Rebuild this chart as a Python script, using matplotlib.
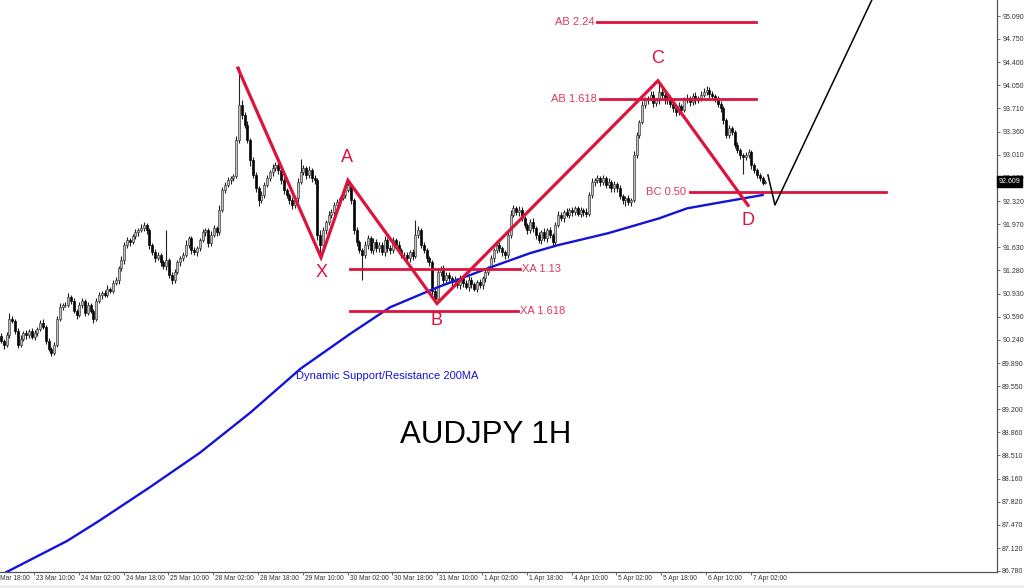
import numpy as np
import matplotlib
matplotlib.use("Agg")
import matplotlib.pyplot as plt
import matplotlib.transforms as mtransforms

plt.rcParams['font.family'] = ['Liberation Sans', 'DejaVu Sans']

# hourly closes AUDJPY (bar 0 = left edge of the chart)
first_open = 90.30
closes = [
    90.23, 90.16, 90.31, 90.56, 90.53, 90.38, 90.16, 90.26, 90.35, 90.31,
    90.38, 90.29, 90.34, 90.41, 90.50, 90.44, 90.23, 90.11, 90.05, 90.16,
    90.56, 90.74, 90.76, 90.77, 90.88, 90.83, 90.68, 90.61, 90.76, 90.83,
    90.65, 90.76, 90.68, 90.56, 90.83, 90.91, 90.95, 90.92, 91.00, 90.98,
    91.09, 91.13, 91.31, 91.43, 91.66, 91.73, 91.70, 91.79, 91.85, 91.88,
    91.91, 91.96, 91.88, 91.66, 91.55, 91.46, 91.51, 91.40, 91.34, 91.43,
    91.21, 91.13, 91.25, 91.40, 91.46, 91.51, 91.66, 91.76, 91.58, 91.55,
    91.61, 91.73, 91.85, 91.88, 91.69, 91.81, 91.91, 91.85, 92.18, 92.48,
    92.56, 92.63, 92.66, 92.69, 93.23, 93.76, 93.61, 93.46, 93.23, 92.93,
    92.71, 92.51, 92.33, 92.41, 92.56, 92.66, 92.75, 92.81, 92.86, 92.78,
    92.63, 92.48, 92.41, 92.33, 92.26, 92.36, 92.60, 92.75, 92.81, 92.71,
    92.78, 92.66, 92.63, 91.81, 91.66, 91.88, 92.00, 92.11, 92.15, 92.26,
    92.30, 92.36, 92.41, 92.48, 92.56, 92.33, 91.88, 91.70, 91.58, 91.51,
    91.66, 91.76, 91.58, 91.70, 91.61, 91.66, 91.55, 91.73, 91.61, 91.58,
    91.73, 91.66, 91.58, 91.51, 91.51, 91.46, 91.55, 91.49, 91.81, 91.88,
    91.66, 91.58, 91.46, 91.40, 90.98, 90.86, 91.25, 91.31, 91.13, 91.21,
    91.16, 91.10, 91.13, 91.06, 91.16, 91.09, 91.04, 91.13, 91.07, 91.01,
    91.10, 91.06, 91.16, 91.25, 91.31, 91.46, 91.58, 91.66, 91.61, 91.55,
    91.51, 91.81, 92.11, 92.21, 92.15, 92.18, 92.06, 91.96, 91.88, 92.00,
    91.91, 91.81, 91.73, 91.85, 91.76, 91.88, 91.81, 91.70, 91.96, 92.11,
    92.06, 92.15, 92.11, 92.18, 92.15, 92.21, 92.13, 92.18, 92.15, 92.12,
    92.41, 92.60, 92.63, 92.66, 92.60, 92.66, 92.56, 92.60, 92.51, 92.57,
    92.51, 92.39, 92.33, 92.36, 92.30, 92.33, 93.01, 93.31, 93.50, 93.76,
    93.83, 93.86, 93.91, 93.79, 93.83, 93.95, 93.91, 93.83, 93.86, 93.77,
    93.71, 93.65, 93.74, 93.68, 93.83, 93.86, 93.80, 93.89, 93.83, 93.86,
    93.91, 93.95, 93.98, 93.92, 93.89, 93.86, 93.77, 93.71, 93.53, 93.31,
    93.41, 93.35, 93.16, 93.08, 93.01, 92.98, 93.01, 93.05, 92.86, 92.78,
    92.71, 92.66, 92.59, 92.609,
]
# wick lengths above / below the body, in 0.01 yen
upper_wick = [
    4, 3, 5, 8, 4, 3, 4, 5, 3, 4,   3, 4, 5, 3, 4, 5, 3, 4, 3, 5,
    4, 5, 3, 4, 6, 3, 4, 3, 5, 4,   3, 5, 4, 3, 4, 5, 3, 4, 6, 3,
    4, 5, 3, 6, 4, 5, 3, 4, 5, 4,   6, 5, 3, 4, 3, 5, 4, 3, 4, 45,
    3, 4, 5, 4, 3, 5, 8, 4, 3, 5,   4, 3, 5, 4, 3, 6, 5, 3, 8, 5,
    4, 5, 3, 4, 6, 57, 8, 5, 6, 4,  5, 4, 3, 6, 4, 5, 4, 6, 5, 4,
    3, 5, 4, 3, 5, 4, 6, 20, 5, 4,  6, 4, 5, 3, 8, 5, 4, 6, 5, 4,
    5, 4, 6, 5, 7, 3, 4, 5, 3, 4,   6, 5, 4, 6, 5, 4, 5, 6, 4, 5,
    5, 4, 6, 3, 4, 5, 4, 5, 22, 6,  4, 5, 3, 4, 3, 5, 6, 4, 5, 4,
    5, 4, 6, 4, 5, 3, 4, 6, 5, 4,   4, 5, 3, 6, 4, 5, 4, 6, 5, 4,
    4, 6, 8, 5, 4, 6, 5, 4, 3, 5,   6, 4, 5, 3, 6, 4, 5, 3, 4, 6,
    5, 4, 6, 4, 5, 3, 4, 5, 4, 6,   5, 6, 4, 5, 3, 5, 4, 6, 4, 5,
    4, 5, 3, 4, 5, 4, 6, 5, 4, 6,   5, 4, 6, 5, 4, 12, 5, 4, 6, 5,
    4, 5, 6, 4, 5, 6, 4, 5, 6, 4,   5, 6, 6, 4, 5, 3, 4, 5, 4, 3,
    5, 4, 3, 5, 4, 3, 5, 5, 4, 3,   4, 3, 4, 3,
]
lower_wick = [
    4, 5, 3, 4, 3, 5, 4, 3, 4, 5,   4, 3, 5, 4, 3, 4, 5, 3, 5, 4,
    3, 4, 5, 3, 4, 5, 4, 6, 3, 4,   5, 3, 4, 6, 4, 3, 5, 4, 3, 4,
    4, 3, 5, 4, 6, 4, 5, 3, 4, 5,   3, 4, 5, 6, 4, 5, 3, 6, 4, 5,
    5, 6, 4, 3, 5, 4, 3, 5, 6, 4,   5, 4, 3, 5, 6, 4, 3, 5, 4, 3,
    4, 3, 5, 4, 3, 4, 6, 5, 4, 8,   5, 6, 8, 4, 5, 3, 4, 5, 4, 5,
    5, 6, 4, 5, 6, 4, 5, 3, 4, 6,   4, 5, 6, 8, 19, 5, 6, 4, 5, 4,
    4, 5, 3, 4, 3, 5, 6, 5, 4, 38,  5, 6, 4, 5, 6, 5, 4, 5, 6, 5,
    4, 5, 6, 5, 4, 5, 6, 5, 3, 4,   5, 4, 6, 5, 6, 7, 4, 5, 6, 5,
    4, 6, 5, 4, 6, 5, 4, 6, 5, 4,   5, 4, 6, 5, 4, 3, 5, 4, 6, 5,
    6, 4, 5, 3, 4, 5, 4, 5, 6, 4,   5, 6, 4, 5, 4, 6, 5, 6, 4, 3,
    4, 5, 3, 4, 5, 4, 3, 5, 6, 4,   3, 4, 5, 4, 5, 4, 5, 4, 6, 5,
    5, 4, 6, 8, 4, 5, 3, 4, 5, 3,   4, 5, 3, 6, 4, 5, 4, 6, 5, 4,
    6, 5, 4, 5, 3, 4, 5, 4, 5, 4,   4, 3, 4, 5, 4, 5, 4, 6, 5, 4,
    5, 4, 5, 4, 6, 25, 4, 5, 6, 4,  5, 4, 3, 2,
]

# 200 period moving average, read at some bars
ma_bar = [-1, 23.6, 35, 53, 71, 89, 107, 125, 139, 156, 175, 189, 199, 217, 235, 245, 257, 272]
ma_value = [86.70, 87.23, 87.53, 88.03, 88.55, 89.15, 89.81, 90.34, 90.73, 91.03,
            91.33, 91.54, 91.66, 91.84, 92.06, 92.21, 92.30, 92.41]

# harmonic pattern pivots
pivot_names = ["", "X", "A", "B", "C", "D"]
pivot_bar = [84.6, 114.3, 123.9, 155.7, 234.6, 266.8]
pivot_price = [94.31, 91.475, 92.63, 90.785, 94.12, 92.255]

# fib levels: name, price, from bar, to bar
level_names = ["XA 1.13", "XA 1.618", "AB 1.618", "AB 2.24", "BC 0.50"]
level_price = [91.295, 90.68, 93.845, 95.00, 92.46]
level_start = [124.6, 124.6, 214.0, 213.0, 246.0]
level_end = [185.4, 184.5, 269.5, 269.5, 316.0]

# projected path after D
proj_bar = [273.9, 276.4, 311.0]
proj_price = [92.71, 92.26, 95.33]

date_labels = ["22 Mar 18:00", "23 Mar 10:00", "24 Mar 02:00", "24 Mar 18:00",
               "25 Mar 10:00", "28 Mar 02:00", "28 Mar 18:00", "29 Mar 10:00",
               "30 Mar 02:00", "30 Mar 18:00", "31 Mar 10:00", "1 Apr 02:00",
               "1 Apr 18:00", "4 Apr 10:00", "5 Apr 02:00", "5 Apr 18:00",
               "6 Apr 10:00", "7 Apr 02:00"]
price_ticks = [95.090, 94.750, 94.400, 94.050, 93.710, 93.360, 93.010, 92.670,
               92.320, 91.970, 91.630, 91.280, 90.930, 90.590, 90.240, 89.890,
               89.550, 89.200, 88.860, 88.510, 88.160, 87.820, 87.470, 87.120,
               86.780]
last_price = 92.609

RED = '#dc143c'
BLUE = '#1414d8'

c = np.array(closes)
o = np.concatenate([[first_open], c[:-1]])
h = np.maximum(o, c) + np.array(upper_wick) / 100
l = np.minimum(o, c) - np.array(lower_wick) / 100
idx = np.arange(len(c))
up = c >= o

fig = plt.figure(figsize=(10.24, 5.88), dpi=100)
ax = fig.add_axes([0, 16 / 588, 997 / 1024, 572 / 588])

ax.vlines(idx, l, h, color='#222222', lw=0.8, zorder=2)
ax.bar(idx[up], c[up] - o[up], bottom=o[up], width=0.7, color='#c0c0c0',
       edgecolor='#333333', lw=0.45, zorder=3)
ax.bar(idx[~up], o[~up] - c[~up], bottom=c[~up], width=0.7, color='black',
       edgecolor='black', lw=0.45, zorder=3)

ax.plot(ma_bar, ma_value, color=BLUE, lw=1.7, zorder=4)

# pattern
ax.plot(pivot_bar, pivot_price, color=RED, lw=2.3, zorder=6, solid_joinstyle='miter')
letter_off = {"X": (0.3, -0.22), "A": (-0.3, 0.34), "B": (0, -0.26), "C": (0, 0.33), "D": (0, -0.22)}
for name, b, p in zip(pivot_names, pivot_bar, pivot_price):
    if name:
        dx, dy = letter_off[name]
        ax.text(b + dx, p + dy, name, color=RED, fontsize=13, ha='center', va='center', zorder=7)

for name, p, s, e in zip(level_names, level_price, level_start, level_end):
    ax.plot([s, e], [p, p], color=RED, lw=2.0, zorder=5)
    if name.startswith("XA"):
        ax.text(e + 0.8, p, name, color='#dd3a5c', fontsize=8, ha='left', va='center', zorder=7)
    else:
        ax.text(s - 1.2, p, name, color='#dd3a5c', fontsize=8, ha='right', va='center', zorder=7)

ax.plot(proj_bar, proj_price, color='black', lw=1.1, zorder=5)

ax.text(105.2, 89.70, "Dynamic Support/Resistance 200MA", color=BLUE, fontsize=8,
        ha='left', va='center')
ax.text(173, 88.81, "AUDJPY 1H", color='black', fontsize=22.5, ha='center', va='center')

for s in ['left', 'top']:
    ax.spines[s].set_visible(False)
for s in ['right', 'bottom']:
    ax.spines[s].set_color('#555555')
    ax.spines[s].set_linewidth(0.9)

ax.yaxis.tick_right()
ax.set_yticks(price_ticks)
ax.set_yticklabels(["%.3f" % v for v in price_ticks])
ax.tick_params(axis='y', direction='out', length=2.5, width=0.6, pad=1.2,
               labelsize=5, labelcolor='#333333', color='#555555')

tick_pos = [-4.2 + 16 * i for i in range(len(date_labels))]
ax.set_xticks(tick_pos)
ax.set_xticklabels([])
ax.tick_params(axis='x', direction='out', length=2.5, width=0.6, color='#555555')

# limits after the ticks, so the ticks do not widen them
ax.set_xlim(-0.36, 355.7)
ax.set_ylim(86.765, 95.33)

trans = mtransforms.blended_transform_factory(ax.transData, ax.transAxes)
for pos, lab in zip(tick_pos, date_labels):
    ax.text(pos + 0.7, -0.006, lab, transform=trans, ha='left', va='top',
            fontsize=4.8, color='#333333', clip_on=False)

# current price box
tb = mtransforms.blended_transform_factory(ax.transAxes, ax.transData)
ax.text(1.0015, last_price, "%.3f" % last_price, transform=tb, ha='left', va='center',
        fontsize=5, color='white', zorder=10, clip_on=False,
        bbox=dict(boxstyle='square,pad=0.25', facecolor='black', edgecolor='black'))

fig.patches.append(plt.Rectangle((0, 0), 1, 3 / 588, transform=fig.transFigure,
                                 facecolor='#f0f0f0', edgecolor='none'))

plt.savefig('out.png', dpi=100)
